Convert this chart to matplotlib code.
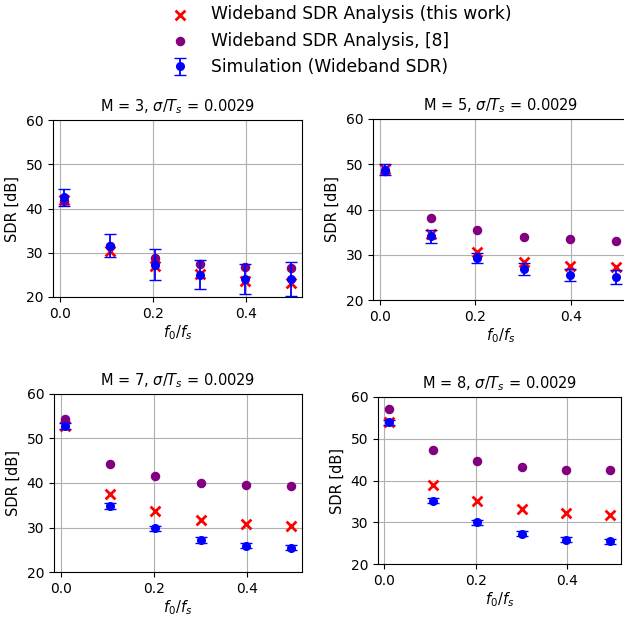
import numpy as np
import matplotlib
matplotlib.use("Agg")
import matplotlib.pyplot as plt

# normalised tone frequency f0/fs
f_ratio = [0.010, 0.107, 0.204, 0.301, 0.398, 0.495]

m_values = [3, 5, 7, 8]
sigma_ts = "0.0029"

# SDR [dB] from the proposed analysis
sdr_this_work = {
    3: [42.0, 30.5, 26.9, 25.2, 23.6, 23.2],
    5: [48.9, 34.6, 30.7, 28.5, 27.5, 27.3],
    7: [52.7, 37.6, 33.6, 31.7, 30.7, 30.4],
    8: [54.1, 39.0, 35.1, 33.1, 32.1, 31.8],
}

# SDR [dB] from the reference analysis [8]
sdr_ref8 = {
    3: [41.7, 31.5, 28.9, 27.4, 26.8, 26.5],
    5: [48.4, 38.1, 35.5, 34.0, 33.4, 33.1],
    7: [54.3, 44.2, 41.6, 40.1, 39.5, 39.3],
    8: [57.2, 47.2, 44.7, 43.3, 42.6, 42.4],
}

# simulated SDR [dB], mean and std
sdr_sim = {
    3: [42.5, 31.6, 27.3, 25.0, 24.1, 24.1],
    5: [48.8, 34.1, 29.2, 26.8, 25.5, 25.1],
    7: [52.8, 34.9, 29.8, 27.2, 25.9, 25.5],
    8: [53.9, 35.1, 30.0, 27.2, 25.8, 25.4],
}
sdr_sim_std = {
    3: [2.0, 2.6, 3.5, 3.3, 3.4, 3.9],
    5: [1.2, 1.4, 1.1, 1.3, 1.4, 1.5],
    7: [0.6, 0.7, 0.6, 0.6, 0.6, 0.6],
    8: [0.6, 0.6, 0.6, 0.6, 0.6, 0.6],
}

W, H = 624, 618
fig = plt.figure(figsize=(W / 100, H / 100), dpi=100)

# axes boxes in pixels: left, right, top, bottom
boxes = {
    3: (53, 302, 120, 297),
    5: (373, 628, 119, 300),
    7: (54, 302, 394, 572),
    8: (378, 621, 397, 564),
}

fs_txt = 10.5
for m in m_values:
    l, r, t, b = boxes[m]
    ax = fig.add_axes([l / W, 1 - b / H, (r - l) / W, (b - t) / H])
    ax.grid(True, color="#b0b0b0", linewidth=0.8)
    ax.set_axisbelow(True)
    ax.scatter(f_ratio, sdr_this_work[m], marker="x", color="red", s=50,
               linewidths=2, label="Wideband SDR Analysis (this work)", zorder=2)
    ax.scatter(f_ratio, sdr_ref8[m], marker="o", color="purple", s=34,
               label="Wideband SDR Analysis, [8]", zorder=3)
    ax.errorbar(f_ratio, sdr_sim[m], yerr=sdr_sim_std[m], fmt="o", color="blue",
                markersize=5.5, capsize=4.5, elinewidth=1.3,
                label="Simulation (Wideband SDR)", zorder=4)
    ax.set_ylim(20, 60)
    ax.set_yticks([20, 30, 40, 50, 60])
    ax.set_xticks([0.0, 0.2, 0.4])
    ax.tick_params(labelsize=10)
    ax.set_xlabel(r"$f_0/f_s$", fontsize=fs_txt, labelpad=2)
    ax.set_ylabel("SDR [dB]", fontsize=fs_txt)
    ax.set_title(r"M = %d, $\sigma/T_s$ = %s" % (m, sigma_ts), fontsize=fs_txt)
    if m == 3:
        handles, labels = ax.get_legend_handles_labels()

fig.legend(handles, labels, loc="upper left",
           bbox_to_anchor=(148 / W, 1.0 + 10 / H),
           frameon=False, fontsize=12.3, handletextpad=0.8, labelspacing=0.5)

fig.savefig("out.png", dpi=100)
